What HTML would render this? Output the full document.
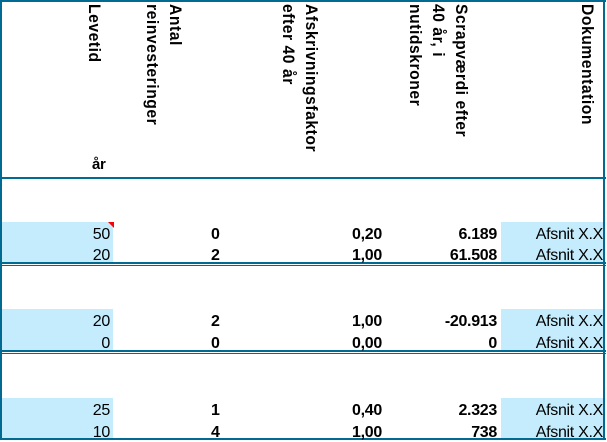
<!DOCTYPE html>
<html><head><style>
body{margin:0;width:607px;height:442px;background:#fff;position:relative;overflow:hidden;font-family:"Liberation Sans",Arial,sans-serif;}
.a{position:absolute;}
.h{position:absolute;top:4px;writing-mode:vertical-rl;font-weight:bold;font-size:17px;letter-spacing:0.6px;line-height:23px;color:#000;white-space:nowrap;transform:scaleY(0.92);transform-origin:top;}
.l{position:absolute;background:#006a93;}
.b{position:absolute;background:#c4ecfc;}
.t{position:absolute;font-size:16px;line-height:16px;color:#000;white-space:nowrap;letter-spacing:-0.3px;}
.bd{font-weight:bold;}
</style></head><body>
<div class="l" style="left:0;top:0;width:606px;height:2px"></div>
<div class="l" style="left:0;top:0;width:2px;height:440px"></div>
<div class="l" style="left:603px;top:0;width:2px;height:440px"></div>
<div class="l" style="left:0;top:177px;width:606px;height:2px"></div>
<div class="l" style="left:0;top:262px;width:606px;height:2px"></div>
<div class="l" style="left:0;top:265px;width:606px;height:1px"></div>
<div class="l" style="left:0;top:350px;width:606px;height:2px"></div>
<div class="l" style="left:0;top:353px;width:606px;height:1px"></div>
<div class="l" style="left:0;top:438px;width:606px;height:2px"></div>

<div class="h" style="left:83px">Levetid</div>
<div class="t bd" style="left:92px;top:157px;font-size:15px">år</div>
<div class="h" style="left:141px">Antal<br>reinvesteringer</div>
<div class="h" style="left:277px">Afskrivningsfaktor<br>efter 40 år</div>
<div class="h" style="left:404px">Scrapværdi efter<br>40 år, i<br>nutidskroner</div>
<div class="h" style="left:576px">Dokumentation</div>

<div class="b" style="left:2px;top:222px;width:111px;height:40px"></div>
<div class="b" style="left:501px;top:222px;width:102px;height:40px"></div>
<div class="b" style="left:2px;top:309px;width:111px;height:41px"></div>
<div class="b" style="left:501px;top:309px;width:102px;height:41px"></div>
<div class="b" style="left:2px;top:398px;width:111px;height:40px"></div>
<div class="b" style="left:501px;top:398px;width:102px;height:40px"></div>
<div class="a" style="left:108px;top:222px;width:0;height:0;border-top:6px solid #f00;border-left:6px solid transparent"></div>

<div class="t" style="right:497px;top:227px">50</div>
<div class="t bd" style="left:211px;top:227px">0</div>
<div class="t bd" style="right:225px;top:227px">0,20</div>
<div class="t bd" style="right:110px;top:227px">6.189</div>
<div class="t" style="right:4px;top:227px">Afsnit X.X</div>

<div class="t" style="right:497px;top:248px">20</div>
<div class="t bd" style="left:211px;top:248px">2</div>
<div class="t bd" style="right:225px;top:248px">1,00</div>
<div class="t bd" style="right:110px;top:248px">61.508</div>
<div class="t" style="right:4px;top:248px">Afsnit X.X</div>

<div class="t" style="right:497px;top:314px">20</div>
<div class="t bd" style="left:211px;top:314px">2</div>
<div class="t bd" style="right:225px;top:314px">1,00</div>
<div class="t bd" style="right:110px;top:314px">-20.913</div>
<div class="t" style="right:4px;top:314px">Afsnit X.X</div>

<div class="t" style="right:497px;top:336px">0</div>
<div class="t bd" style="left:211px;top:336px">0</div>
<div class="t bd" style="right:225px;top:336px">0,00</div>
<div class="t bd" style="right:110px;top:336px">0</div>
<div class="t" style="right:4px;top:336px">Afsnit X.X</div>

<div class="t" style="right:497px;top:403px">25</div>
<div class="t bd" style="left:211px;top:403px">1</div>
<div class="t bd" style="right:225px;top:403px">0,40</div>
<div class="t bd" style="right:110px;top:403px">2.323</div>
<div class="t" style="right:4px;top:403px">Afsnit X.X</div>

<div class="t" style="right:497px;top:425px">10</div>
<div class="t bd" style="left:211px;top:425px">4</div>
<div class="t bd" style="right:225px;top:425px">1,00</div>
<div class="t bd" style="right:110px;top:425px">738</div>
<div class="t" style="right:4px;top:425px">Afsnit X.X</div>
</body></html>
